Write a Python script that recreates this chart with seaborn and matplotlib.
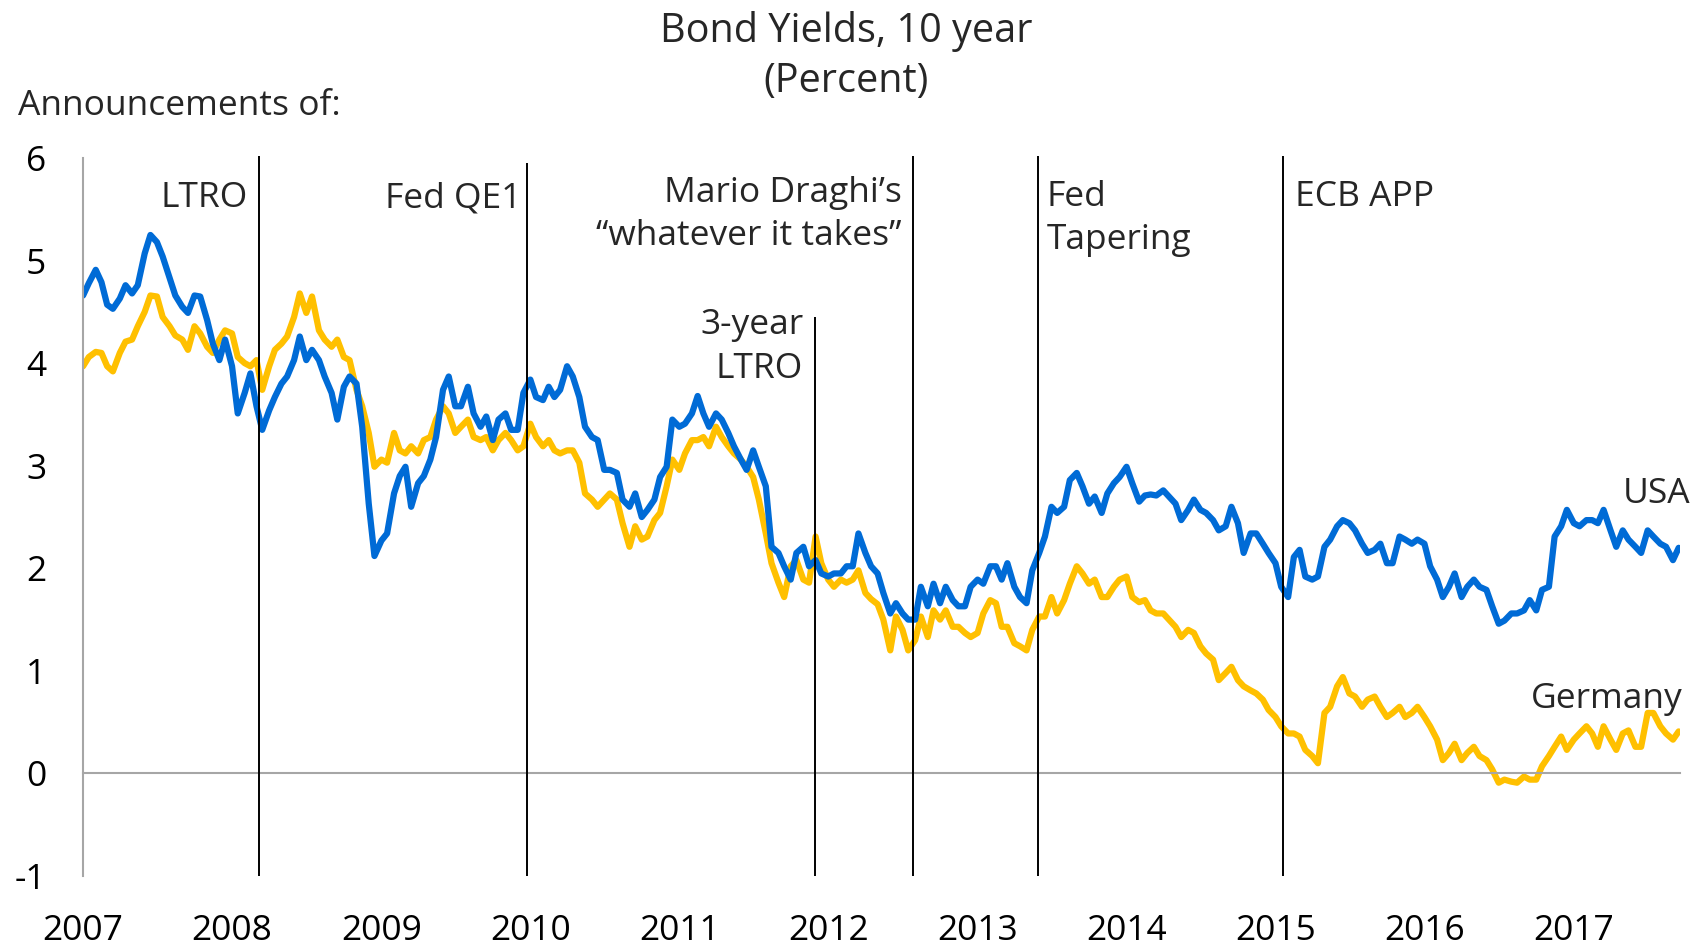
import pandas as pd
import matplotlib
matplotlib.use("Agg")
import matplotlib.pyplot as plt
import matplotlib.dates as mdates
import seaborn as sns

# semi-monthly readings (1st and 15th), Jan 2007 - mid Sep 2017
dates = pd.date_range("2007-01-01", "2017-09-15", freq="SMS")

usa = [
    # 2007
    4.66, 4.78, 4.91, 4.79, 4.57, 4.53, 4.63, 4.76, 4.68, 4.76, 5.07, 5.25,
    5.18, 5.04, 4.83, 4.66, 4.55, 4.49, 4.66, 4.65, 4.42, 4.19, 4.03, 4.23,
    # 2008
    3.97, 3.51, 3.71, 3.90, 3.58, 3.35, 3.54, 3.67, 3.80, 3.87, 4.03, 4.26,
    4.03, 4.13, 4.03, 3.87, 3.71, 3.45, 3.77, 3.87, 3.80, 3.38, 2.63, 2.12,
    # 2009
    2.27, 2.34, 2.73, 2.90, 2.99, 2.60, 2.83, 2.90, 3.06, 3.28, 3.74, 3.87,
    3.58, 3.58, 3.77, 3.51, 3.38, 3.48, 3.25, 3.45, 3.51, 3.35, 3.35, 3.71,
    # 2010
    3.84, 3.67, 3.64, 3.77, 3.67, 3.74, 3.97, 3.87, 3.67, 3.38, 3.28, 3.25,
    2.96, 2.96, 2.93, 2.67, 2.60, 2.73, 2.50, 2.57, 2.67, 2.89, 2.99, 3.45,
    # 2011
    3.38, 3.41, 3.51, 3.68, 3.51, 3.38, 3.51, 3.45, 3.32, 3.19, 3.06, 2.96,
    3.15, 2.99, 2.80, 2.21, 2.15, 2.02, 1.89, 2.15, 2.21, 2.02, 2.08, 1.95,
    # 2012
    1.92, 1.95, 1.95, 2.02, 2.02, 2.34, 2.15, 2.02, 1.95, 1.76, 1.56, 1.66,
    1.56, 1.50, 1.50, 1.82, 1.63, 1.85, 1.66, 1.82, 1.69, 1.63, 1.63, 1.82,
    # 2013
    1.89, 1.85, 2.02, 2.02, 1.89, 2.05, 1.82, 1.72, 1.66, 1.98, 2.15, 2.31,
    2.60, 2.54, 2.60, 2.86, 2.93, 2.80, 2.63, 2.70, 2.54, 2.73, 2.83, 2.89,
    # 2014
    2.99, 2.83, 2.65, 2.71, 2.72, 2.71, 2.76, 2.70, 2.63, 2.47, 2.57, 2.67,
    2.57, 2.54, 2.47, 2.37, 2.41, 2.60, 2.44, 2.15, 2.34, 2.34, 2.24, 2.15,
    # 2015
    2.05, 1.82, 1.72, 2.11, 2.18, 1.92, 1.89, 1.92, 2.21, 2.28, 2.41, 2.47,
    2.44, 2.37, 2.24, 2.15, 2.18, 2.24, 2.05, 2.05, 2.31, 2.28, 2.24, 2.28,
    # 2016
    2.24, 2.02, 1.89, 1.72, 1.82, 1.95, 1.72, 1.82, 1.89, 1.82, 1.79, 1.63,
    1.46, 1.49, 1.56, 1.56, 1.59, 1.69, 1.59, 1.79, 1.82, 2.31, 2.41, 2.57,
    # 2017
    2.44, 2.41, 2.47, 2.47, 2.44, 2.57, 2.37, 2.21, 2.37, 2.28, 2.21, 2.15,
    2.37, 2.31, 2.24, 2.21, 2.08, 2.20,
]

germany = [
    # 2007
    3.97, 4.06, 4.11, 4.10, 3.97, 3.92, 4.10, 4.21, 4.23, 4.36, 4.50, 4.66,
    4.65, 4.45, 4.36, 4.27, 4.23, 4.13, 4.36, 4.29, 4.16, 4.10, 4.23, 4.32,
    # 2008
    4.29, 4.06, 4.00, 3.97, 4.03, 3.74, 3.97, 4.13, 4.19, 4.26, 4.45, 4.68,
    4.49, 4.65, 4.32, 4.23, 4.16, 4.23, 4.06, 4.03, 3.74, 3.58, 3.32, 2.99,
    # 2009
    3.06, 3.03, 3.32, 3.15, 3.12, 3.19, 3.12, 3.25, 3.28, 3.45, 3.58, 3.51,
    3.32, 3.38, 3.45, 3.28, 3.25, 3.28, 3.15, 3.25, 3.32, 3.25, 3.15, 3.19,
    # 2010
    3.41, 3.28, 3.19, 3.25, 3.15, 3.12, 3.15, 3.15, 3.03, 2.73, 2.67, 2.60,
    2.67, 2.73, 2.67, 2.44, 2.21, 2.41, 2.28, 2.31, 2.47, 2.54, 2.80, 3.06,
    # 2011
    2.96, 3.12, 3.25, 3.25, 3.28, 3.19, 3.38, 3.28, 3.19, 3.12, 3.06, 2.99,
    2.89, 2.67, 2.34, 2.05, 1.86, 1.72, 2.02, 2.08, 1.89, 1.86, 2.31, 2.05,
    # 2012
    1.89, 1.82, 1.89, 1.86, 1.89, 1.98, 1.76, 1.70, 1.65, 1.50, 1.20, 1.53,
    1.40, 1.20, 1.30, 1.53, 1.33, 1.59, 1.50, 1.59, 1.43, 1.43, 1.37, 1.33,
    # 2013
    1.37, 1.56, 1.69, 1.66, 1.43, 1.43, 1.27, 1.24, 1.20, 1.40, 1.53, 1.53,
    1.72, 1.56, 1.69, 1.85, 2.02, 1.95, 1.85, 1.89, 1.72, 1.72, 1.82, 1.89,
    # 2014
    1.92, 1.72, 1.67, 1.69, 1.59, 1.56, 1.56, 1.50, 1.43, 1.33, 1.40, 1.37,
    1.24, 1.17, 1.11, 0.91, 0.98, 1.04, 0.91, 0.85, 0.81, 0.78, 0.72, 0.62,
    # 2015
    0.55, 0.46, 0.39, 0.39, 0.36, 0.23, 0.17, 0.10, 0.59, 0.65, 0.85, 0.94,
    0.78, 0.75, 0.65, 0.72, 0.75, 0.65, 0.55, 0.59, 0.65, 0.55, 0.59, 0.65,
    # 2016
    0.55, 0.46, 0.33, 0.13, 0.20, 0.29, 0.13, 0.20, 0.26, 0.17, 0.13, 0.04,
    -0.09, -0.06, -0.08, -0.09, -0.03, -0.06, -0.06, 0.07, 0.17, 0.26, 0.36, 0.23,
    # 2017
    0.33, 0.39, 0.46, 0.39, 0.26, 0.46, 0.33, 0.23, 0.39, 0.42, 0.26, 0.26,
    0.59, 0.59, 0.46, 0.39, 0.33, 0.41,
]

# announcements: date, label, line top (value)
event_dates = ["2008-03-07", "2009-12-23", "2011-11-30", "2012-07-26", "2013-05-29", "2015-01-20"]
event_labels = ["LTRO", "Fed QE1", "3-year\nLTRO", "Mario Draghi\u2019s\n\u201cwhatever it takes\u201d",
                "Fed\nTapering", "ECB APP"]
event_tops = [6.02, 5.95, 4.45, 6.02, 6.02, 6.02]

df = pd.DataFrame({"date": dates, "USA": usa, "Germany": germany})
long = df.melt(id_vars="date", var_name="country", value_name="yield")

sns.set_style("white")
plt.rcParams["font.family"] = ["Open Sans", "DejaVu Sans"]
plt.rcParams["axes.unicode_minus"] = False

FS = 25.5
grey = "#A6A6A6"

fig = plt.figure(figsize=(17.06, 9.48), dpi=100)
ax = fig.add_axes([0.0487, 0.0759, 0.936, 0.7574])

sns.lineplot(data=long, x="date", y="yield", hue="country", hue_order=["Germany", "USA"],
             palette={"USA": "#006BD6", "Germany": "#FFC000"}, linewidth=4.5, legend=False, ax=ax)

ev = pd.to_datetime(event_dates)
for d, top in zip(ev, event_tops):
    ax.vlines(d, -1, top, color="black", linewidth=1.4, zorder=5, clip_on=False)

ax.set_xlim(pd.Timestamp("2007-01-01"), pd.Timestamp("2017-09-18"))
ax.set_ylim(-1, 6)
ax.set_yticks(range(-1, 7))
ax.xaxis.set_major_locator(mdates.YearLocator())
ax.xaxis.set_major_formatter(mdates.DateFormatter("%Y"))
ax.set_xlabel("")
ax.set_ylabel("")

for s in ["top", "right"]:
    ax.spines[s].set_visible(False)
ax.spines["left"].set_color(grey)
ax.spines["left"].set_linewidth(1.5)
ax.spines["bottom"].set_position(("data", 0))
ax.spines["bottom"].set_color(grey)
ax.spines["bottom"].set_linewidth(1.5)
ax.tick_params(axis="x", direction="out", length=9.4, width=1.5, color=grey, pad=92, labelsize=FS)
ax.tick_params(axis="y", direction="out", length=9.4, width=1.5, color=grey, pad=17, labelsize=FS)
ax.tick_params(axis="both", labelcolor="black")
ax.set_facecolor("white")

# announcement labels (y = baseline of the last text line)
text_y = [5.52, 5.52, 3.86, 5.15, 5.11, 5.53]
offsets = [-11, -5, -12, -11, 9, 12]
for d, lab, y, off in zip(ev, event_labels, text_y, offsets):
    ax.annotate(lab, xy=(d, y), xytext=(off, 0), textcoords="offset pixels",
                ha="right" if off < 0 else "left", va="baseline", fontsize=FS,
                multialignment="right" if off < 0 else "left", linespacing=1.36)

ax.annotate("USA", xy=(1.0, 2.64), xycoords=("axes fraction", "data"), xytext=(10, 0),
            textcoords="offset pixels", ha="right", va="baseline", fontsize=FS)
ax.annotate("Germany", xy=(1.0, 0.64), xycoords=("axes fraction", "data"), xytext=(3, 0),
            textcoords="offset pixels", ha="right", va="baseline", fontsize=FS)

fig.text(0.496, 1 - 31 / 948, "Bond Yields, 10 year", ha="center", va="center", fontsize=28.5)
fig.text(0.496, 1 - 82 / 948, "(Percent)", ha="center", va="center", fontsize=28.5)
fig.text(18.5 / 1706, 1 - 106 / 948, "Announcements of:", ha="left", va="center", fontsize=FS)

fig.savefig("out.png", dpi=100, facecolor="white")
